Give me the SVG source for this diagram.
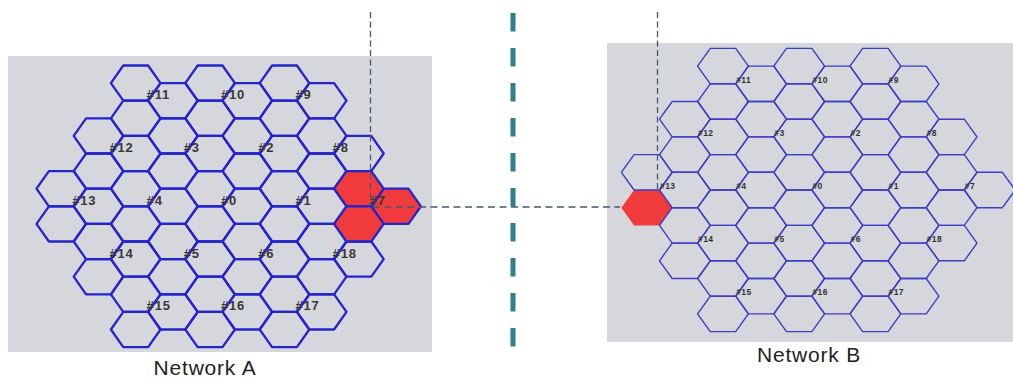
<svg xmlns="http://www.w3.org/2000/svg" xmlns:xlink="http://www.w3.org/1999/xlink" width="1013" height="379" viewBox="0 0 1013 379">
<style>
.bg{fill:#d5d7dd}
.ha{fill:none;stroke:#2424cc;stroke-width:2.3;stroke-linejoin:round}
.hb{fill:none;stroke:#3d3dc6;stroke-width:1.4;stroke-linejoin:round}
.red{fill:#f13a3c}
.la{font-family:"Liberation Sans",Arial,sans-serif;font-size:13px;font-weight:bold;fill:#383838;letter-spacing:0.8px}
.lb{font-family:"Liberation Sans",Arial,sans-serif;font-size:8.5px;font-weight:bold;fill:#333;letter-spacing:0.4px}
.title{font-family:"Liberation Sans",Arial,sans-serif;font-size:21px;fill:#222;letter-spacing:0.8px;text-anchor:middle}
.thin{fill:none;stroke:#4a5670;stroke-width:1.3}
</style>
<defs>
<polygon id="hexA" points="-24.8,0 -12.4,-17.6 12.4,-17.6 24.8,0 12.4,17.6 -12.4,17.6"/>
<polygon id="hexB" points="-25.4,0 -12.7,-17.7 12.7,-17.7 25.4,0 12.7,17.7 -12.7,17.7"/>
<g id="cellA"><use xlink:href="#hexA" x="24.8" y="0"/><use xlink:href="#hexA" x="-12.4" y="-17.6"/><use xlink:href="#hexA" x="-12.4" y="17.6"/></g>
<g id="cellB"><use xlink:href="#hexB" x="25.4" y="0"/><use xlink:href="#hexB" x="-12.7" y="-17.7"/><use xlink:href="#hexB" x="-12.7" y="17.7"/></g>
</defs>
<rect class="bg" x="8" y="56" width="424" height="296"/>
<rect class="bg" x="607" y="43" width="406" height="299"/>

<g id="networkA">
<g id="a11" transform="translate(148.1,100.7)"><use class="ha" xlink:href="#cellA"/><text class="la" x="-1.5" y="-1.5">#11</text></g>
<g id="a10" transform="translate(222.5,100.7)"><use class="ha" xlink:href="#cellA"/><text class="la" x="-1.5" y="-1.5">#10</text></g>
<g id="a9" transform="translate(296.9,100.7)"><use class="ha" xlink:href="#cellA"/><text class="la" x="-1.5" y="-1.5">#9</text></g>
<g id="a12" transform="translate(110.9,153.5)"><use class="ha" xlink:href="#cellA"/><text class="la" x="-1.5" y="-1.5">#12</text></g>
<g id="a3" transform="translate(185.3,153.5)"><use class="ha" xlink:href="#cellA"/><text class="la" x="-1.5" y="-1.5">#3</text></g>
<g id="a2" transform="translate(259.7,153.5)"><use class="ha" xlink:href="#cellA"/><text class="la" x="-1.5" y="-1.5">#2</text></g>
<g id="a8" transform="translate(334.1,153.5)"><use class="ha" xlink:href="#cellA"/><text class="la" x="-1.5" y="-1.5">#8</text></g>
<g id="a13" transform="translate(73.7,206.3)"><use class="ha" xlink:href="#cellA"/><text class="la" x="-1.5" y="-1.5">#13</text></g>
<g id="a4" transform="translate(148.1,206.3)"><use class="ha" xlink:href="#cellA"/><text class="la" x="-1.5" y="-1.5">#4</text></g>
<g id="a0" transform="translate(222.5,206.3)"><use class="ha" xlink:href="#cellA"/><text class="la" x="-1.5" y="-1.5">#0</text></g>
<g id="a1" transform="translate(296.9,206.3)"><use class="ha" xlink:href="#cellA"/><text class="la" x="-1.5" y="-1.5">#1</text></g>
<g id="a14" transform="translate(110.9,259.1)"><use class="ha" xlink:href="#cellA"/><text class="la" x="-1.5" y="-1.5">#14</text></g>
<g id="a5" transform="translate(185.3,259.1)"><use class="ha" xlink:href="#cellA"/><text class="la" x="-1.5" y="-1.5">#5</text></g>
<g id="a6" transform="translate(259.7,259.1)"><use class="ha" xlink:href="#cellA"/><text class="la" x="-1.5" y="-1.5">#6</text></g>
<g id="a18" transform="translate(334.1,259.1)"><use class="ha" xlink:href="#cellA"/><text class="la" x="-1.5" y="-1.5">#18</text></g>
<g id="a15" transform="translate(148.1,311.9)"><use class="ha" xlink:href="#cellA"/><text class="la" x="-1.5" y="-1.5">#15</text></g>
<g id="a16" transform="translate(222.5,311.9)"><use class="ha" xlink:href="#cellA"/><text class="la" x="-1.5" y="-1.5">#16</text></g>
<g id="a17" transform="translate(296.9,311.9)"><use class="ha" xlink:href="#cellA"/><text class="la" x="-1.5" y="-1.5">#17</text></g>
<g id="a7" transform="translate(371.3,206.3)"><use class="ha red" xlink:href="#cellA"/><text class="la" x="-1.5" y="-1.5">#7</text></g>
<text class="title" x="205" y="375">Network A</text>
</g>

<g id="networkB">
<g id="b13red" transform="translate(659.5,190)"><use class="red" xlink:href="#hexB" x="-12.7" y="17.7"/></g>
<g id="b11" transform="translate(735.7,83.8)"><use class="hb" xlink:href="#cellB"/><text class="lb" x="0.5" y="-1">#11</text></g>
<g id="b10" transform="translate(811.9,83.8)"><use class="hb" xlink:href="#cellB"/><text class="lb" x="0.5" y="-1">#10</text></g>
<g id="b9" transform="translate(888.1,83.8)"><use class="hb" xlink:href="#cellB"/><text class="lb" x="0.5" y="-1">#9</text></g>
<g id="b12" transform="translate(697.6,136.9)"><use class="hb" xlink:href="#cellB"/><text class="lb" x="0.5" y="-1">#12</text></g>
<g id="b3" transform="translate(773.8,136.9)"><use class="hb" xlink:href="#cellB"/><text class="lb" x="0.5" y="-1">#3</text></g>
<g id="b2" transform="translate(850,136.9)"><use class="hb" xlink:href="#cellB"/><text class="lb" x="0.5" y="-1">#2</text></g>
<g id="b8" transform="translate(926.2,136.9)"><use class="hb" xlink:href="#cellB"/><text class="lb" x="0.5" y="-1">#8</text></g>
<g id="b13" transform="translate(659.5,190)"><use class="hb" xlink:href="#hexB" x="25.4" y="0"/><use class="hb" xlink:href="#hexB" x="-12.7" y="-17.7"/><text class="lb" x="0.5" y="-1">#13</text></g>
<g id="b4" transform="translate(735.7,190)"><use class="hb" xlink:href="#cellB"/><text class="lb" x="0.5" y="-1">#4</text></g>
<g id="b0" transform="translate(811.9,190)"><use class="hb" xlink:href="#cellB"/><text class="lb" x="0.5" y="-1">#0</text></g>
<g id="b1" transform="translate(888.1,190)"><use class="hb" xlink:href="#cellB"/><text class="lb" x="0.5" y="-1">#1</text></g>
<g id="b7" transform="translate(964.3,190)"><use class="hb" xlink:href="#cellB"/><text class="lb" x="0.5" y="-1">#7</text></g>
<g id="b14" transform="translate(697.6,243.1)"><use class="hb" xlink:href="#cellB"/><text class="lb" x="0.5" y="-1">#14</text></g>
<g id="b5" transform="translate(773.8,243.1)"><use class="hb" xlink:href="#cellB"/><text class="lb" x="0.5" y="-1">#5</text></g>
<g id="b6" transform="translate(850,243.1)"><use class="hb" xlink:href="#cellB"/><text class="lb" x="0.5" y="-1">#6</text></g>
<g id="b18" transform="translate(926.2,243.1)"><use class="hb" xlink:href="#cellB"/><text class="lb" x="0.5" y="-1">#18</text></g>
<g id="b15" transform="translate(735.7,296.2)"><use class="hb" xlink:href="#cellB"/><text class="lb" x="0.5" y="-1">#15</text></g>
<g id="b16" transform="translate(811.9,296.2)"><use class="hb" xlink:href="#cellB"/><text class="lb" x="0.5" y="-1">#16</text></g>
<g id="b17" transform="translate(888.1,296.2)"><use class="hb" xlink:href="#cellB"/><text class="lb" x="0.5" y="-1">#17</text></g>
<text class="title" x="809" y="362">Network B</text>
</g>

<g id="divider">
<line x1="513" y1="13" x2="513" y2="347" stroke="#2f7f8e" stroke-width="5" stroke-dasharray="18.5 16.5"/>
</g>

<g id="connectors">
<line class="thin" x1="370.5" y1="12" x2="370.5" y2="206" stroke-dasharray="6 3.5"/>
<line class="thin" x1="657.5" y1="12" x2="657.5" y2="190" stroke-dasharray="6 3.5"/>
<line class="thin" x1="373" y1="207" x2="620" y2="207" stroke-dasharray="7 4.5"/>
</g>
</svg>
